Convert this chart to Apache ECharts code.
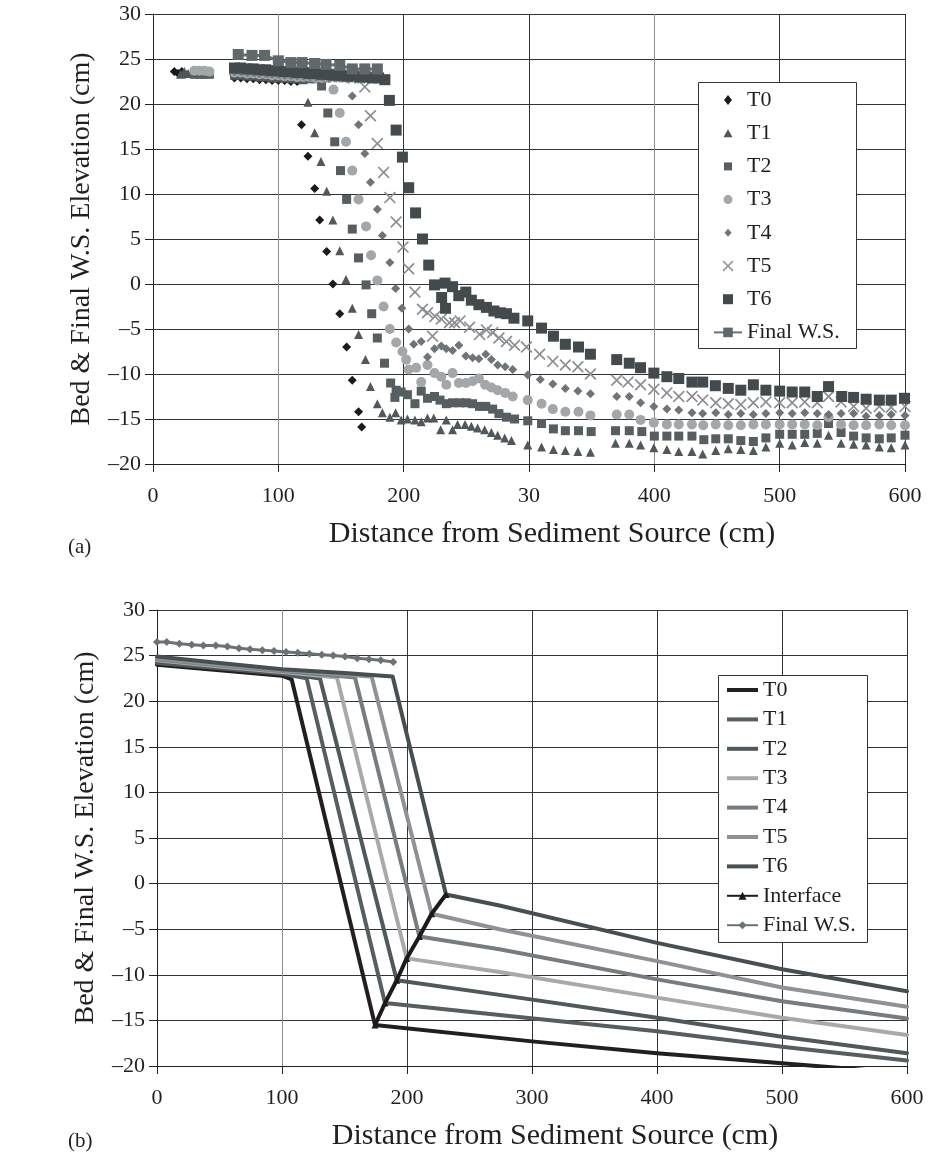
<!DOCTYPE html>
<html>
<head>
<meta charset="utf-8">
<script src="https://cdn.jsdelivr.net/npm/echarts@6/dist/echarts.min.js"></script>
<style>
  html, body { margin: 0; padding: 0; background: #fff; }
  #chart { width: 929px; height: 1153px; }
</style>
</head>
<body>
<div id="chart"></div>
<script>
// ---- data ----
const seriesNames = ['T0', 'T1', 'T2', 'T3', 'T4', 'T5', 'T6']
const xTickLabelsA = ['0', '100', '200', '30', '400', '500', '600']
const xTickLabelsB = ['0', '100', '200', '300', '400', '500', '600']

// (a) measured bed profiles [distance cm, elevation cm]
const t0A = [[17, 23.6], [20, 23.4], [23, 23.6], [26, 23.3],
  [65, 22.9], [70, 22.9], [75, 22.8], [80, 22.8], [85, 22.7], [90, 22.7], [95, 22.6], [100, 22.6], [105, 22.6], [110, 22.5], [115, 22.5],
  [118.5, 17.7], [123.6, 14.2], [129, 10.6], [133, 7.1], [138.6, 3.6], [143.5, 0.0], [149, -3.3], [154.5, -7.0], [159, -10.7], [164, -14.2], [166.5, -15.9]]
const t1A = [[22, 23.3], [25, 23.6], [28, 23.4], [31, 23.5],
  [65, 23.2], [70, 23.2], [75, 23.1], [80, 23.1], [85, 23.0], [90, 23.0], [95, 22.9], [100, 22.9], [105, 22.9], [110, 22.8], [115, 22.8], [120, 22.7],
  [123.6, 20.2], [129, 16.8], [134, 13.6], [138.6, 10.3], [143.5, 7.1], [149, 3.7], [154, 0.5], [159, -2.7], [164, -5.6], [169.5, -8.4], [173.5, -11.4],
  [179, -13.3], [183, -14.3], [189, -14.8], [193.6, -14.3], [198, -15.1], [203, -15.0], [209, -15.1], [214, -15.3], [219, -14.9], [224, -14.9],
  [229.5, -16.2], [234, -15.1], [239, -16.2], [243, -15.6], [249, -15.6], [254, -15.8], [259, -16.0], [264.6, -16.2], [270, -16.5], [275, -16.8],
  [280.6, -17.1], [286, -17.4], [299, -17.9], [310, -18.1], [319.5, -18.4], [329, -18.5], [339, -18.6], [349, -18.7], [369, -17.7], [380, -17.7],
  [389, -17.9], [399.6, -18.2], [410, -18.4], [419.5, -18.6], [430, -18.6], [438.6, -18.9], [449, -18.5], [459, -18.3], [469, -18.4], [479, -18.5],
  [489, -18.1], [500, -17.7], [510, -17.9], [520, -17.6], [530, -17.7], [539, -16.8], [549, -17.7], [559, -17.8], [569, -17.9], [579.5, -18.1],
  [589, -18.2], [600, -17.9]]
const t2A = [[33, 23.3], [37, 23.3], [41, 23.3], [45, 23.3],
  [65, 23.4], [70, 23.4], [75, 23.3], [80, 23.3], [85, 23.2], [90, 23.2], [95, 23.1], [100, 23.1], [105, 23.0], [110, 23.0], [115, 22.9], [120, 22.9], [125, 22.8], [130, 22.8],
  [134.5, 22.0], [139.5, 19.0], [145, 15.8], [149.6, 12.6], [154.5, 9.4], [159, 6.1], [164, 2.9], [170, -0.1], [174.5, -3.3], [179, -6.0],
  [184.7, -8.8], [189.6, -11.0], [193, -12.6], [194, -11.8], [198, -12.0], [203, -12.3], [209, -13.3], [214, -11.9], [219, -12.7], [224.6, -12.5],
  [229, -12.9], [234, -13.3], [239, -13.2], [244.6, -13.2], [250, -13.2], [255, -13.3], [260.5, -13.6], [265.5, -13.6], [271, -13.9], [276, -14.4],
  [282, -14.8], [288.5, -15.0], [299, -15.2], [310, -15.5], [319.5, -16.1], [329, -16.3], [339.5, -16.3], [349.6, -16.4], [369, -16.3], [380, -16.3],
  [390, -16.4], [400, -16.9], [410, -16.9], [419.5, -16.9], [430, -16.9], [439.5, -17.3], [449, -17.2], [459, -17.2], [469, -17.4], [479, -17.5],
  [489, -17.1], [500, -16.7], [510, -16.7], [520, -16.7], [530, -16.6], [539, -15.5], [549, -16.5], [559, -16.9], [569, -17.1], [579.5, -17.2],
  [589, -17.1], [600, -16.8]]
const t3A = [[33, 23.7], [37, 23.7], [41, 23.7], [45, 23.6],
  [65, 23.5], [70, 23.5], [75, 23.4], [80, 23.4], [85, 23.3], [90, 23.3], [95, 23.2], [100, 23.2], [105, 23.1], [110, 23.1], [115, 23.0], [120, 23.0],
  [125, 23.0], [130, 22.9], [135, 22.9], [140, 22.9],
  [144, 21.6], [149, 19.0], [154, 15.8], [159, 12.6], [164, 9.4], [170, 6.4], [174, 3.2], [179, 0.4], [184, -2.5], [189, -5.0], [194, -6.5],
  [199, -7.5], [202, -8.4], [204, -9.5], [210, -9.3], [214, -10.9], [219, -9.0], [224.6, -9.9], [230, -10.3], [234, -11.2], [239, -9.9],
  [244, -11.0], [249.6, -11.0], [255, -10.8], [260, -10.5], [265, -11.2], [270, -11.5], [275, -11.8], [281, -12.1], [287, -12.5], [299, -12.9],
  [310, -13.3], [319, -13.9], [329, -14.2], [339.5, -14.2], [349, -14.6], [370, -14.5], [380, -14.5], [389, -15.1], [399.6, -15.4], [410, -15.6],
  [419.5, -15.6], [430, -15.6], [439, -15.7], [449, -15.6], [459, -15.7], [469, -15.7], [479, -15.6], [489, -15.6], [500, -15.6], [510, -15.6],
  [520, -15.6], [530, -15.7], [539, -14.8], [549, -15.6], [559, -15.7], [569, -15.7], [579.5, -15.6], [589, -15.7], [600, -15.7]]
const t4A = [[65, 23.6], [70, 23.6], [75, 23.5], [80, 23.5], [85, 23.4], [90, 23.4], [95, 23.3], [100, 23.3], [105, 23.2], [110, 23.2], [115, 23.1],
  [120, 23.1], [125, 23.0], [130, 23.0], [135, 23.0], [140, 22.9], [145, 22.9], [150, 22.9], [155, 22.8],
  [159, 20.9], [164, 17.7], [169, 14.5], [173.5, 11.3], [179, 8.3], [183, 5.4], [189, 2.4], [193.6, -0.5], [198.5, -2.7], [204, -5.0], [208, -6.7],
  [214, -6.4], [219, -8.1], [224.6, -7.2], [230, -6.9], [234, -7.2], [239, -7.4], [244, -6.8], [249.6, -8.0], [255, -8.2], [260, -8.3],
  [265.5, -7.8], [270, -8.4], [275, -9.0], [281, -9.2], [287, -9.5], [299, -10.1], [309, -10.6], [319, -11.1], [329, -11.6], [339, -11.9],
  [349, -12.2], [370, -12.5], [380, -12.5], [389, -13.2], [399.6, -13.6], [410, -13.9], [419.5, -14.0], [430, -14.3], [438.6, -14.4], [449, -14.3],
  [459, -14.5], [469, -14.4], [479, -14.5], [489, -14.4], [500, -14.3], [510, -14.4], [520, -14.3], [530, -14.4], [539, -14.5], [549, -14.4],
  [559, -14.4], [569, -14.7], [579.5, -14.6], [589, -14.5], [600, -14.6]]
const t5A = [[65, 23.8], [70, 23.8], [75, 23.7], [80, 23.7], [85, 23.6], [90, 23.6], [95, 23.5], [100, 23.5], [105, 23.4], [110, 23.4], [115, 23.3],
  [120, 23.3], [125, 23.2], [130, 23.2], [135, 23.1], [140, 23.1], [145, 23.0], [150, 23.0], [155, 23.0], [160, 22.9], [165, 22.9],
  [169, 21.9], [173.5, 18.7], [179, 15.6], [184, 12.4], [189, 9.6], [194, 6.9], [199.5, 4.1], [204, 1.7], [209, -0.9], [215, -2.8], [219, -3.2],
  [223, -5.8], [225, -3.6], [230, -3.9], [236.5, -4.3], [240.6, -4.3], [245, -4.1], [252.6, -4.8], [260.6, -5.6], [266, -5.1], [271, -5.4],
  [276, -6.0], [282, -6.4], [288.5, -6.8], [298, -7.0], [308.5, -7.8], [319, -8.6], [329, -9.0], [339, -9.2], [349, -10.0], [370, -10.7],
  [379, -10.9], [389, -11.2], [399.6, -11.7], [410, -12.1], [419.5, -12.5], [430, -12.5], [438.6, -12.9], [449, -13.2], [459, -13.3], [469, -13.4],
  [479, -13.2], [489, -13.1], [500, -13.2], [510, -13.2], [520, -13.1], [530, -13.2], [539, -12.5], [549, -13.1], [559, -13.6], [569, -13.8],
  [579.5, -13.6], [589, -13.7], [600, -13.6]]
const t6A = [[65, 24.0], [70, 24.0], [75, 23.9], [80, 23.9], [85, 23.8], [90, 23.8], [95, 23.7], [100, 23.7], [105, 23.6], [110, 23.6], [115, 23.5],
  [120, 23.5], [125, 23.4], [130, 23.4], [135, 23.3], [140, 23.3], [145, 23.2], [150, 23.2], [155, 23.1], [160, 23.1], [165, 23.0], [170, 23.0],
  [175, 22.9], [180, 22.9],
  [185, 22.7], [188.6, 20.4], [194, 17.1], [199, 14.1], [204, 10.7], [209.5, 7.9], [215, 5.0], [220, 2.1], [224.6, -0.1], [230.3, -1.5], [233, 0.1],
  [233.4, -2.7], [239, -0.3], [244, -1.3], [249.6, -0.9], [254, -1.8], [260, -2.3], [266, -2.6], [272, -3.0], [277, -3.2], [282, -3.3], [288, -3.8],
  [299, -4.1], [310, -4.9], [319.5, -5.8], [329, -6.7], [339.5, -7.0], [349, -7.8], [370, -8.4], [380, -8.8], [389, -9.3], [399.6, -9.9],
  [410, -10.3], [419.5, -10.5], [430, -10.9], [438.6, -10.9], [448.7, -11.3], [459, -11.6], [469, -11.8], [479, -11.2], [489, -11.8], [500, -11.9],
  [510, -12.0], [520, -12.0], [530, -12.5], [539, -11.4], [549.5, -12.5], [559, -12.6], [569, -12.8], [579.5, -12.9], [589, -12.9], [599.6, -12.7]]
const wsA = [[68, 25.5], [79, 25.4], [89, 25.4], [100, 24.8], [110, 24.6], [119, 24.6], [129, 24.5], [138, 24.4], [149, 24.3], [159, 23.9], [169, 23.9], [179, 23.9]]

// (b) computed bed profiles
const t0B = [[0, 24.0], [50, 23.4], [100, 22.8], [107.7, 22.4], [174.4, -15.5], [300, -17.3], [400, -18.6], [500, -19.7], [600, -20.8]]
const t1B = [[0, 24.2], [50, 23.6], [100, 23.0], [119.7, 22.5], [182.4, -13.1], [274, -14.4], [400, -16.2], [500, -17.9], [600, -19.4]]
const t2B = [[0, 24.3], [50, 23.7], [100, 23.1], [130.4, 22.5], [191.8, -10.6], [274, -12.2], [400, -14.7], [500, -16.8], [600, -18.6]]
const t3B = [[0, 24.5], [50, 23.8], [100, 23.2], [144, 22.6], [199.7, -8.2], [274, -9.7], [400, -12.5], [500, -14.7], [600, -16.6]]
const t4B = [[0, 24.6], [50, 23.9], [100, 23.3], [150, 22.7], [158.4, 22.6], [209.9, -5.8], [274, -7.2], [400, -10.5], [500, -12.9], [600, -14.8]]
const t5B = [[0, 24.7], [50, 24.0], [100, 23.4], [150, 22.9], [171.7, 22.7], [219.7, -3.3], [274, -5.0], [400, -8.5], [500, -11.4], [600, -13.5]]
const t6B = [[0, 24.9], [50, 24.2], [100, 23.5], [150, 23.1], [188.5, 22.7], [231.2, -1.2], [274, -2.4], [400, -6.5], [500, -9.4], [600, -11.8]]
const interfaceB = [[174.4, -15.5], [182.4, -13.1], [191.8, -10.6], [199.7, -8.2], [209.9, -5.8], [219.7, -3.3], [231.2, -1.2]]
const wsDistB = [0, 7.8, 17.9, 27.8, 37.1, 47, 56.3, 65.6, 74.4, 84.3, 93.6, 103.2, 112.6, 121.9, 131.8, 141, 150.4, 160.2, 169.6, 179, 189]
const wsElevB = [26.5, 26.5, 26.3, 26.2, 26.1, 26.1, 26.0, 25.8, 25.7, 25.6, 25.5, 25.4, 25.3, 25.2, 25.1, 25.0, 24.9, 24.7, 24.6, 24.5, 24.3]

// ---- styles ----
const FONT = 'Liberation Serif'
const INK = '#231f20'
const crossPath = 'path://M0,1L1,0L5,4L9,0L10,1L6,5L10,9L9,10L5,6L1,10L0,9L4,5Z'

const markerStyles = [
  { symbol: 'diamond', size: 9, color: '#1e1a1b' },
  { symbol: 'triangle', size: 9, color: '#50585b' },
  { symbol: 'rect', size: 9, color: '#565e61' },
  { symbol: 'circle', size: 10, color: '#a3a7aa' },
  { symbol: 'diamond', size: 9, color: '#6e7478' },
  { symbol: crossPath, size: 12, color: '#8b8f93' },
  { symbol: 'rect', size: 11, color: '#424a4d' }
]
// legend icons drawn in a 28x12 box (the lone moves fix the box size)
const box = 'path://M0,0M28,12'
const legendIconsA = [
  box + 'M14,1L18,6L14,11L10,6Z',
  box + 'M14,2L18.5,10L9.5,10Z',
  box + 'M10,2H18V10H10Z',
  box + 'M9.5,6A4.5,4.5 0 1 1 18.5,6A4.5,4.5 0 1 1 9.5,6Z',
  box + 'M14,2L17.5,6L14,10L10.5,6Z',
  box + 'M8.5,1.6L9.6,0.5L14,4.9L18.4,0.5L19.5,1.6L15.1,6L19.5,10.4L18.4,11.5L14,7.1L9.6,11.5L8.5,10.4L12.9,6Z',
  box + 'M9,1H19V11H9Z'
]
const lineIconB = 'path://M0,0M31,10M0,3H31V7H0Z'
const lineColorsB = ['#231f20', '#565e61', '#4f585b', '#a6aaad', '#777c80', '#8e9296', '#465052']

const aSeries = [t0A, t1A, t2A, t3A, t4A, t5A, t6A]
const bSeries = [t0B, t1B, t2B, t3B, t4B, t5B, t6B]

function yLabel(v) {
  return v < 0 ? '\u2013' + (-v) : String(v)
}
const stripTag = name => name.replace(/ \([ab]\)$/, '')

function xAxisFor(gridIndex, labels, splitColors) {
  return {
    type: 'value', gridIndex, min: 0, max: 600, interval: 100,
    axisLine: { show: true, onZero: false, lineStyle: { color: '#222', width: 1 } },
    axisTick: { show: true, length: 8, lineStyle: { color: '#222' } },
    axisLabel: { margin: 21, fontFamily: FONT, fontSize: 22, color: INK, formatter: v => labels[Math.round(v / 100)] },
    splitLine: { show: true, lineStyle: { color: splitColors, width: 1 } },
    name: 'Distance from Sediment Source (cm)', nameLocation: 'middle', nameGap: 55,
    nameTextStyle: { fontFamily: FONT, fontSize: 30, color: INK, padding: [0, 0, 0, 46] }
  }
}
function yAxisFor(gridIndex) {
  return {
    type: 'value', gridIndex, min: -20, max: 30, interval: 5,
    axisLine: { show: true, onZero: false, lineStyle: { color: '#222', width: 1 } },
    axisTick: { show: true, length: 8, lineStyle: { color: '#222' } },
    axisLabel: { margin: 12, fontFamily: FONT, fontSize: 22, color: INK, formatter: yLabel },
    splitLine: { show: true, lineStyle: { color: '#333', width: 1 } },
    name: 'Bed & Final W.S. Elevation (cm)', nameLocation: 'middle', nameGap: 57,
    nameTextStyle: { fontFamily: FONT, fontSize: 28, color: INK }
  }
}

const series = []
seriesNames.forEach((n, i) => {
  const m = markerStyles[i]
  series.push({
    name: n + ' (a)', type: 'scatter', xAxisIndex: 0, yAxisIndex: 0,
    symbol: m.symbol, symbolSize: m.size, itemStyle: { color: m.color, opacity: 1 },
    data: aSeries[i], z: 2 + i * 0.01
  })
})
series.push({
  name: 'Final W.S. (a)', type: 'line', xAxisIndex: 0, yAxisIndex: 0,
  symbol: 'rect', symbolSize: 11, showAllSymbol: true,
  lineStyle: { color: '#6a7073', width: 3 }, itemStyle: { color: '#61686b' },
  data: wsA, z: 3
})
seriesNames.forEach((n, i) => {
  series.push({
    name: n + ' (b)', type: 'line', xAxisIndex: 1, yAxisIndex: 1,
    symbol: 'none', lineStyle: { color: lineColorsB[i], width: 4, cap: 'round', join: 'round' },
    itemStyle: { color: lineColorsB[i] }, data: bSeries[i], z: 2
  })
})
series.push({
  name: 'Interface (b)', type: 'line', xAxisIndex: 1, yAxisIndex: 1,
  symbol: 'triangle', symbolSize: 7, showAllSymbol: true,
  lineStyle: { color: '#1e1a1b', width: 4, join: 'round' }, itemStyle: { color: '#1e1a1b' },
  data: interfaceB, z: 3
})
series.push({
  name: 'Final W.S. (b)', type: 'line', xAxisIndex: 1, yAxisIndex: 1,
  symbol: 'diamond', symbolSize: 8, showAllSymbol: true,
  lineStyle: { color: '#6b7174', width: 3 }, itemStyle: { color: '#6b7174' },
  data: wsDistB.map((d, i) => [d, wsElevB[i]]), z: 3
})

const legendText = { fontFamily: FONT, fontSize: 22, color: INK, lineHeight: 22 }

const chart = echarts.init(document.getElementById('chart'), null, { renderer: 'canvas' })
chart.setOption({
  backgroundColor: '#fff',
  animation: false,
  grid: [
    { left: 153, top: 14, width: 752, height: 450 },
    { left: 157, top: 610, width: 750, height: 456 }
  ],
  xAxis: [
    xAxisFor(0, xTickLabelsA, ['#333', '#8c8c8c', '#333', '#333', '#8c8c8c', '#333', '#333']),
    xAxisFor(1, xTickLabelsB, ['#333', '#8c8c8c', '#333', '#333', '#333', '#333', '#333'])
  ],
  yAxis: [yAxisFor(0), yAxisFor(1)],
  legend: [
    {
      orient: 'vertical', left: 713, top: 89, padding: 0, itemGap: 11.2,
      itemWidth: 28, itemHeight: 12, selectedMode: false,
      textStyle: legendText, formatter: stripTag,
      data: seriesNames.map((n, i) => ({ name: n + ' (a)', icon: legendIconsA[i] }))
        .concat([{ name: 'Final W.S. (a)' }])
    },
    {
      orient: 'vertical', left: 726, top: 679, padding: 0, itemGap: 7.4,
      itemWidth: 31, itemHeight: 10, selectedMode: false,
      textStyle: legendText, formatter: stripTag,
      data: seriesNames.map(n => ({ name: n + ' (b)', icon: lineIconB }))
        .concat([{ name: 'Interface (b)' }, { name: 'Final W.S. (b)' }])
    }
  ],
  graphic: [
    { type: 'rect', z: 3, shape: { x: 698.5, y: 82.5, width: 158, height: 266 }, style: { fill: '#fff', stroke: '#333', lineWidth: 1 } },
    { type: 'rect', z: 3, shape: { x: 718.5, y: 675.5, width: 149, height: 267 }, style: { fill: '#fff', stroke: '#333', lineWidth: 1 } },
    { type: 'text', left: 68, top: 537, style: { text: '(a)', font: '21px "Liberation Serif"', fill: INK } },
    { type: 'text', left: 68, top: 1131, style: { text: '(b)', font: '21px "Liberation Serif"', fill: INK } }
  ],
  series
})
</script>
</body>
</html>
